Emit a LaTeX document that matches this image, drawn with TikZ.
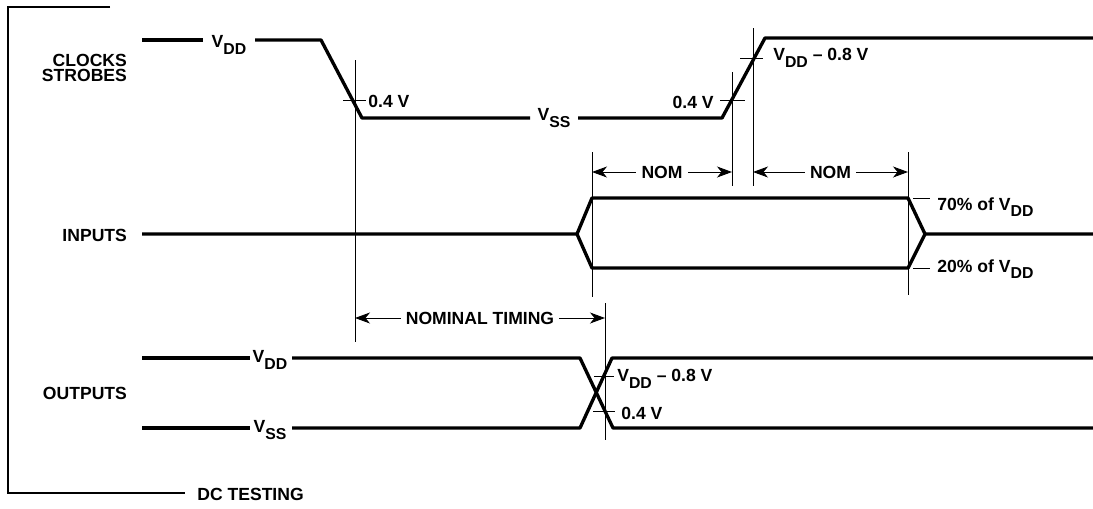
\documentclass[tikz,border=0pt]{standalone}
\usepackage{fontspec}
\setmainfont{Liberation Sans}
\usetikzlibrary{positioning, arrows.meta}

\newcommand{\vsub}[1]{V\raisebox{-0.7ex}{\fontsize{9}{9}\selectfont #1}}

\begin{document}
\begin{tikzpicture}[
    x=0.02cm, y=-0.02cm,
    every node/.style={font=\fontsize{10}{11}\selectfont\bfseries, inner sep=1pt},
    wave/.style={line width=1.9pt, line join=round},
    guide/.style={line width=0.5pt},
    frame/.style={line width=0.8pt},
    dimline/.style={
        {Stealth[length=3mm,width=2.2mm,inset=0.9mm]}-{Stealth[length=3mm,width=2.2mm,inset=0.9mm]},
        line width=0.5pt
    },
    gap/.style={fill=white, inner xsep=3pt, inner ysep=0pt},
    sig/.style={anchor=east, align=right},
    txt/.style={anchor=west, inner sep=0pt}
]
\useasboundingbox (0,0) rectangle (1093,508);

% bracket
\draw[frame] (110,7) -- (8,7) -- (8,493) -- (185,493);
\node[txt] (dc) at (197,494) {DC TESTING};

% signal names
\node[sig] (clk) at (129,68) {CLOCKS\\[-2pt]STROBES};
\node[sig] (inp) at (129,235) {INPUTS};
\node[sig] (outp) at (129,393) {OUTPUTS};

% clocks / strobes
\node[inner sep=0pt] (cvdd) at (229,45) {\vsub{DD}};
\node[inner sep=0pt] (cvss) at (554,118) {\vsub{SS}};
\draw[wave] (142,40) -- (203,40);
\draw[wave] (255,40) -- (321,40) -- (362,118) -- (530,118);
\draw[wave] (578,118) -- (722,118) -- (765,38) -- (1093,38);

\draw[guide] (355,60) -- (355,342);
\draw[guide] (343,100) -- (366,100);
\node[txt] (c04a) at (368,101) {0.4 V};

\draw[guide] (732,72) -- (732,186);
\draw[guide] (720,100) -- (745,100);
\node[txt, anchor=east] (c04b) at (714,102) {0.4 V};
\draw[guide] (753,28) -- (753,186);
\draw[guide] (740,58) -- (763,58);
\node[txt] (cvdd8) at (773,58) {\vsub{DD} \textendash{} 0.8 V};

% inputs
\draw[wave] (142,234) -- (577,234) -- (592,198) -- (908,198) -- (925,234) -- (1093,234);
\draw[wave] (577,234) -- (592,268) -- (908,268) -- (925,234);
\draw[guide] (592,152) -- (592,297);
\draw[guide] (908,152) -- (908,295);
\draw[guide] (913,198) -- (930,198);
\draw[guide] (913,268) -- (930,268);
\node[txt] (p70) at (937,207) {70\% of \vsub{DD}};
\node[txt] (p20) at (937,269) {20\% of \vsub{DD}};

\coordinate (n1) at (592,172);
\coordinate (n2) at (732,172);
\coordinate (n3) at (753,172);
\coordinate (n4) at (908,172);
\draw[dimline] (n1) -- node[gap] (nom1) {NOM} (n2);
\draw[dimline] (n3) -- node[gap] (nom2) {NOM} (n4);

% outputs
\node[inner sep=0pt] (ovdd) at (270,360) {\vsub{DD}};
\node[inner sep=0pt] (ovss) at (270,430) {\vsub{SS}};
\draw[wave] (142,358) -- (250,358);
\draw[wave] (292,358) -- (580,358) -- (613,428) -- (1093,428);
\draw[wave] (142,428) -- (250,428);
\draw[wave] (292,428) -- (580,428) -- (612,358) -- (1093,358);

\draw[guide] (605,303) -- (605,440);
\draw[guide] (594,376) -- (614,376);
\draw[guide] (593,411) -- (615,411);
\node[txt] (ovdd8) at (617,379) {\vsub{DD} \textendash{} 0.8 V};
\node[txt] (o04) at (621,413) {0.4 V};

\coordinate (t1) at (355,318);
\coordinate (t2) at (605,318);
\draw[dimline] (t1) -- node[gap] (nomt) {NOMINAL TIMING} (t2);

\end{tikzpicture}
\end{document}
